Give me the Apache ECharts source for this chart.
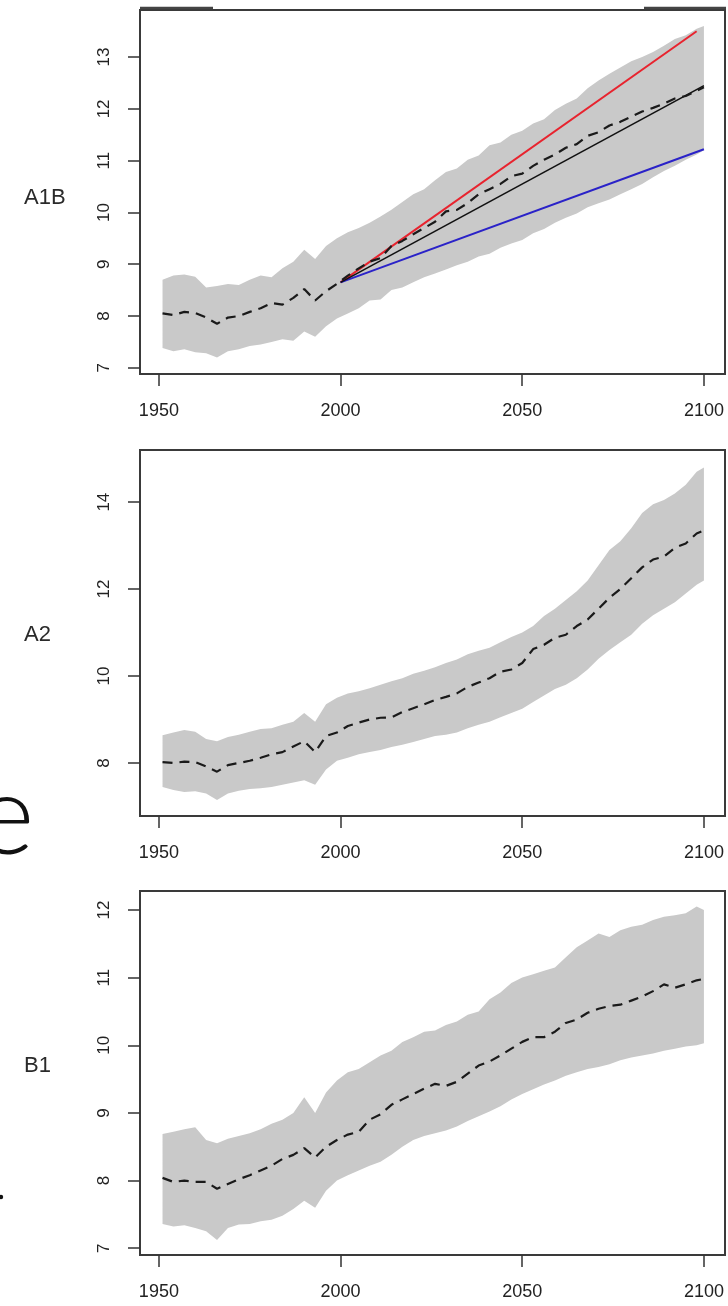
<!DOCTYPE html>
<html>
<head>
<meta charset="utf-8">
<script src="https://cdn.jsdelivr.net/npm/echarts@6/dist/echarts.min.js"></script>
<style>
html,body{margin:0;padding:0;background:#fff;}
#chart{width:728px;height:1306px;}
</style>
</head>
<body>
<div id="chart"></div>
<script>
// ---- data ----
const years = [1951,1954,1957,1960,1963,1966,1969,1972,1975,1978,1981,1984,1987,1990,1993,1996,1999,2002,2005,2008,2011,2014,2017,2020,2023,2026,2029,2032,2035,2038,2041,2044,2047,2050,2053,2056,2059,2062,2065,2068,2071,2074,2077,2080,2083,2086,2089,2092,2095,2098,2100];
const xTicks = [1950, 2000, 2050, 2100];
const panelNames = ['A1B', 'A2', 'B1'];

const a1bMean = [8.05,8.02,8.08,8.06,7.97,7.85,7.97,8.0,8.08,8.15,8.25,8.22,8.35,8.52,8.3,8.48,8.62,8.78,8.92,9.05,9.12,9.35,9.45,9.58,9.7,9.82,10.02,10.05,10.18,10.35,10.45,10.55,10.7,10.75,10.9,11.02,11.12,11.25,11.32,11.48,11.55,11.68,11.75,11.85,11.95,12.02,12.1,12.2,12.25,12.35,12.42];
const a1bUpper = [8.7,8.78,8.8,8.76,8.55,8.58,8.62,8.6,8.7,8.78,8.75,8.92,9.05,9.28,9.1,9.35,9.5,9.62,9.7,9.8,9.92,10.05,10.2,10.35,10.45,10.62,10.78,10.85,11.02,11.1,11.3,11.35,11.5,11.58,11.72,11.8,11.98,12.1,12.2,12.4,12.55,12.68,12.8,12.92,13.0,13.1,13.22,13.35,13.42,13.55,13.6];
const a1bLower = [7.38,7.32,7.36,7.3,7.28,7.2,7.32,7.36,7.42,7.45,7.5,7.55,7.52,7.7,7.6,7.8,7.95,8.05,8.15,8.3,8.32,8.5,8.55,8.65,8.75,8.82,8.9,8.98,9.05,9.15,9.2,9.32,9.4,9.47,9.6,9.68,9.8,9.9,9.98,10.1,10.18,10.25,10.35,10.45,10.55,10.68,10.8,10.9,11.02,11.12,11.2];

const a2Mean = [8.02,8.0,8.03,8.02,7.92,7.8,7.95,8.0,8.05,8.12,8.2,8.25,8.38,8.5,8.25,8.62,8.7,8.85,8.93,9.0,9.04,9.05,9.17,9.26,9.35,9.45,9.52,9.6,9.75,9.85,9.95,10.1,10.15,10.3,10.62,10.72,10.88,10.95,11.15,11.3,11.55,11.8,12.0,12.25,12.5,12.68,12.75,12.95,13.05,13.28,13.35];
const a2Upper = [8.64,8.7,8.76,8.72,8.55,8.5,8.6,8.65,8.72,8.78,8.8,8.88,8.95,9.15,8.95,9.35,9.5,9.6,9.65,9.72,9.8,9.88,9.95,10.05,10.12,10.2,10.3,10.38,10.5,10.58,10.65,10.78,10.9,11.0,11.15,11.38,11.55,11.75,11.95,12.2,12.55,12.9,13.1,13.4,13.75,13.95,14.05,14.2,14.4,14.7,14.8];
const a2Lower = [7.45,7.38,7.33,7.35,7.3,7.15,7.3,7.36,7.4,7.42,7.45,7.5,7.55,7.6,7.5,7.85,8.05,8.12,8.2,8.25,8.3,8.37,8.42,8.48,8.55,8.62,8.65,8.7,8.8,8.88,8.95,9.05,9.15,9.25,9.4,9.55,9.7,9.8,9.95,10.15,10.4,10.6,10.78,10.95,11.2,11.4,11.55,11.7,11.9,12.1,12.2];

const b1Mean = [8.04,7.98,8.0,7.98,7.98,7.88,7.95,8.02,8.08,8.15,8.22,8.32,8.38,8.48,8.34,8.5,8.6,8.68,8.72,8.9,8.98,9.12,9.2,9.28,9.36,9.43,9.4,9.46,9.58,9.7,9.76,9.85,9.95,10.05,10.12,10.12,10.2,10.33,10.38,10.48,10.54,10.58,10.6,10.66,10.72,10.8,10.9,10.85,10.9,10.96,10.98];
const b1Upper = [8.69,8.72,8.76,8.79,8.6,8.55,8.62,8.66,8.7,8.76,8.84,8.9,9.0,9.23,9.0,9.3,9.48,9.6,9.65,9.75,9.85,9.92,10.05,10.12,10.2,10.22,10.3,10.35,10.45,10.5,10.68,10.78,10.92,11.0,11.05,11.1,11.15,11.3,11.45,11.55,11.65,11.6,11.7,11.75,11.78,11.85,11.9,11.92,11.95,12.05,12.0];
const b1Lower = [7.36,7.32,7.34,7.3,7.25,7.12,7.3,7.35,7.36,7.4,7.42,7.48,7.58,7.7,7.6,7.85,8.0,8.08,8.15,8.22,8.28,8.38,8.5,8.6,8.66,8.7,8.74,8.8,8.88,8.95,9.02,9.1,9.2,9.28,9.35,9.42,9.48,9.55,9.6,9.65,9.68,9.72,9.78,9.82,9.85,9.88,9.92,9.95,9.98,10.0,10.03];

// A1B scenario straight lines (start, end)
const trendYears = [2000, 2100];
const redTrend = [8.65, 13.5];
const redEndYear = 2098;
const blackTrend = [8.65, 12.45];
const blueTrend = [8.65, 11.22];

const yTicks1 = [7, 8, 9, 10, 11, 12, 13];
const yTicks2 = [8, 10, 12, 14];
const yTicks3 = [7, 8, 9, 10, 11, 12];

// ---- layout ----
const grids = [
  {left: 140, right: 3, top: 10, height: 364},
  {left: 140, right: 3, top: 450, height: 366},
  {left: 140, right: 3, top: 891, height: 364}
];
const yRanges = [[6.88, 13.91], [6.78, 15.2], [6.9, 12.28]];
const yTickSets = [yTicks1, yTicks2, yTicks3];
const panels = [
  {mean: a1bMean, upper: a1bUpper, lower: a1bLower},
  {mean: a2Mean, upper: a2Upper, lower: a2Lower},
  {mean: b1Mean, upper: b1Upper, lower: b1Lower}
];

const FONT = "'Liberation Sans Narrow', 'Liberation Sans', Arial, sans-serif";
const AX = '#333';

const xAxes = grids.map((g, i) => ({
  type: 'value', gridIndex: i, min: 1944.8, max: 2105.8,
  axisLine: {show: false},
  axisTick: {show: true, length: 12, customValues: xTicks, lineStyle: {color: AX, width: 1.5}},
  axisLabel: {customValues: xTicks, color: '#222', fontSize: 18, fontFamily: FONT, margin: 28,
    formatter: v => String(Math.round(v))},
  splitLine: {show: false}
}));
const yAxes = grids.map((g, i) => ({
  type: 'value', gridIndex: i, min: yRanges[i][0], max: yRanges[i][1],
  axisLine: {show: false},
  axisTick: {show: true, length: 12, customValues: yTickSets[i], lineStyle: {color: AX, width: 1.5}},
  axisLabel: {customValues: yTickSets[i], rotate: 90, color: '#222', fontSize: 17, fontFamily: FONT, margin: 27,
    formatter: v => String(Math.round(v))},
  splitLine: {show: false}
}));

const series = [];
// uncertainty band: polygon between upper and lower, mapped through the axes
panels.forEach((p, i) => {
  series.push({
    type: 'custom', xAxisIndex: i, yAxisIndex: i, silent: true, z: 1,
    data: years.map((y, k) => [y, p.upper[k], p.lower[k]]),
    encode: {x: 0, y: [1, 2]},
    renderItem: (params, api) => {
      if (params.dataIndex !== 0) return null;
      const pts = [];
      for (let k = 0; k < years.length; k++) pts.push(api.coord([years[k], p.upper[k]]));
      for (let k = years.length - 1; k >= 0; k--) pts.push(api.coord([years[k], p.lower[k]]));
      return {type: 'polygon', shape: {points: pts}, style: {fill: '#c9c9c9', stroke: null}};
    }
  });
});
// A1B scenario lines
series.push({type: 'line', xAxisIndex: 0, yAxisIndex: 0, symbol: 'none', silent: true, z: 3,
  lineStyle: {color: '#e8232e', width: 2}, data: [[trendYears[0], redTrend[0]], [redEndYear, redTrend[1]]]});
series.push({type: 'line', xAxisIndex: 0, yAxisIndex: 0, symbol: 'none', silent: true, z: 3,
  lineStyle: {color: '#2a22c8', width: 2}, data: trendYears.map((y, k) => [y, blueTrend[k]])});
series.push({type: 'line', xAxisIndex: 0, yAxisIndex: 0, symbol: 'none', silent: true, z: 3,
  lineStyle: {color: '#111', width: 1.6}, data: trendYears.map((y, k) => [y, blackTrend[k]])});
// mean dashed lines
panels.forEach((p, i) => {
  series.push({
    type: 'line', xAxisIndex: i, yAxisIndex: i, symbol: 'none', silent: true, z: 4,
    lineStyle: {color: '#1a1a1a', width: 2.2, type: [10, 7]},
    data: years.map((y, k) => [y, p.mean[k]])
  });
});

const labelY = [200, 637, 1068];
const graphic = panelNames.map((t, i) => ({
  type: 'text', left: 24, top: labelY[i] - 13,
  style: {text: t, fontSize: 22, fontFamily: FONT, fill: '#2a2a2a'}
}));
graphic.push({type: 'text', x: -24, y: 762,
  style: {text: 'e', fontSize: 112, fontFamily: "Lato, 'Open Sans', sans-serif", fontWeight: 300, fill: '#111'}});
graphic.push({type: 'circle', shape: {cx: 1, cy: 1197, r: 2.2}, style: {fill: '#111'}});
// thicker top edge outside the white strip
graphic.push({type: 'line', shape: {x1: 140, y1: 8, x2: 213, y2: 8}, style: {stroke: '#444', lineWidth: 2.5}});
graphic.push({type: 'line', shape: {x1: 644, y1: 8, x2: 726, y2: 8}, style: {stroke: '#444', lineWidth: 2.5}});

const chart = echarts.init(document.getElementById('chart'), null, {renderer: 'canvas'});
chart.setOption({
  backgroundColor: '#ffffff',
  animation: false,
  grid: grids.map(g => Object.assign({show: true, borderColor: '#3a3a3a', borderWidth: 2, backgroundColor: 'transparent'}, g)),
  xAxis: xAxes,
  yAxis: yAxes,
  series: series,
  graphic: graphic
});
</script>
</body>
</html>
